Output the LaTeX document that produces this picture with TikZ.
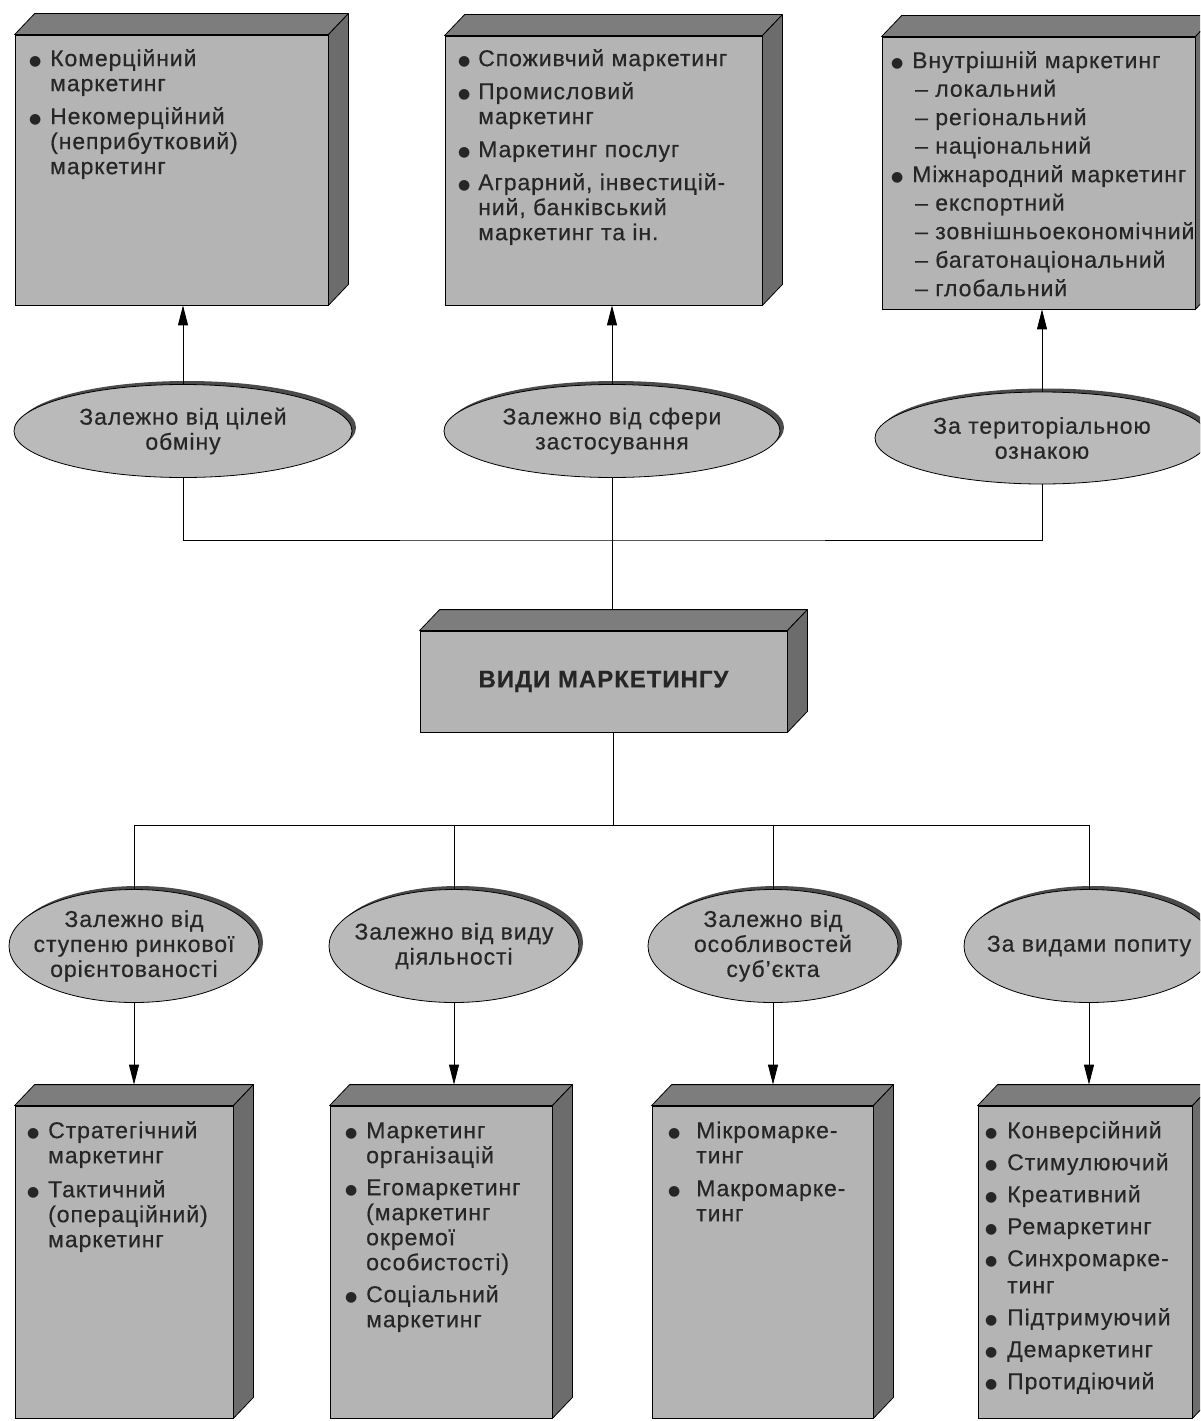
\documentclass[tikz,border=0pt]{standalone}
\usepackage{fontspec}
\setmainfont{Liberation Sans}[LetterSpace=4, FakeBold=0.4]
\newfontfamily\symf{DejaVu Sans}
\usetikzlibrary{shapes.geometric,arrows.meta,shadows}
\definecolor{frontc}{RGB}{180,180,180}
\definecolor{topc}{RGB}{125,125,125}
\definecolor{sidec}{RGB}{108,108,108}
\definecolor{ellc}{RGB}{186,186,186}
\definecolor{shc}{RGB}{75,75,75}
\definecolor{txtc}{RGB}{38,38,38}
\newcommand\bul[1]{\makebox[#1pt][l]{\raisebox{1.2pt}{\symf\fontsize{14}{14}\selectfont ●}}}
\newcommand\hi[1]{\hspace*{#1pt}}
\newcommand\fst{\rule{0pt}{21pt}}
\newcommand\faces[1]{%
  \path[topf] (#1.north west) -- ([shift={(20,-21)}]#1.north west) -- ([shift={(20,-21)}]#1.north east) -- (#1.north east) -- cycle;
  \path[sidef] (#1.north east) -- ([shift={(20,-21)}]#1.north east) -- ([shift={(20,-21)}]#1.south east) -- (#1.south east) -- cycle;}
\begin{document}
\begin{tikzpicture}[x=1pt,y=-1pt,
  front/.style={draw=black, line width=0.8pt, fill=frontc, inner sep=0pt},
  topf/.style={draw=black, line width=0.8pt, fill=topc, line join=round},
  sidef/.style={draw=black, line width=0.8pt, fill=sidec, line join=round},
  oval/.style={ellipse, draw=black, line width=0.8pt, fill=ellc, inner xsep=-30pt, inner ysep=-8pt, align=center, text=txtc, font=\fontsize{23}{25}\selectfont, drop shadow={shadow xshift=4pt, shadow yshift=3.5pt, fill=shc, opacity=1}},
  txt/.style={anchor=north west, inner sep=0pt, align=left, text=txtc, font=\fontsize{23}{25}\selectfont},
  conn/.style={draw=black, line width=0.9pt},
  arr/.style={conn, -{Triangle[length=20pt,width=10pt]}}]
\useasboundingbox (0,0) rectangle (1200,1421);
\clip (0,0) rectangle (1200,1421);
\fill[white] (0,0) rectangle (1200,1421);

% top boxes
\node[front, minimum width=313pt, minimum height=270pt] (b1) at (171.5,170) {};
\faces{b1}
\node[front, minimum width=317pt, minimum height=269pt] (b2) at (603.5,170.5) {};
\faces{b2}
\node[front, minimum width=313pt, minimum height=272pt] (b3) at (1038.5,173) {};
\faces{b3}

\node[txt] (t1) at (29,45) {\fst\bul{21}Комерційний\\\hi{21}маркетинг\\[8pt]\bul{21}Некомерційний\\\hi{21}(неприбутковий)\\\hi{21}маркетинг};
\node[txt] (t2) at (458,45) {\fst\bul{20}Споживчий маркетинг\\[8pt]\bul{20}Промисловий\\\hi{20}маркетинг\\[8pt]\bul{20}Маркетинг послуг\\[8pt]\bul{20}Аграрний, інвестицій-\\\hi{20}ний, банківський\\\hi{20}маркетинг та ін.};
\node[txt, font=\fontsize{23}{28.5}\selectfont] (t3) at (891,47) {\fst\bul{21}Внутрішній маркетинг\\\hi{24}– локальний\\\hi{24}– регіональний\\\hi{24}– національний\\\bul{21}Міжнародний маркетинг\\\hi{24}– експортний\\\hi{24}– зовнішньоекономічний\\\hi{24}– багатонаціональний\\\hi{24}– глобальний};

% top ellipses
\node[oval, minimum width=338pt, minimum height=93pt] (e1) at (183,431) {Залежно від цілей\\обміну};
\node[oval, minimum width=336pt, minimum height=93pt] (e2) at (612,431) {Залежно від сфери\\застосування};
\node[oval, minimum width=334pt, minimum height=92pt] (e3) at (1042,438) {За територіальною\\ознакою};

\draw[arr] (e1.north) -- (e1.north |- b1.south);
\draw[arr] (e2.north) -- (e2.north |- b2.south);
\draw[arr] (e3.north) -- (e3.north |- b3.south);

% central box
\node[front, minimum width=367pt, minimum height=101pt, font=\bfseries\fontsize{24}{26}\selectfont, text=txtc] (vm) at (603.5,681.5) {ВИДИ МАРКЕТИНГУ};
\faces{vm}

\coordinate (tb) at (612,540);
\coordinate (vmback) at ([yshift=21pt]vm.north);
\draw[conn] (e1.south) |- (tb) -| (e3.south);
\draw[conn] (e2.south) -- (e2.south |- vmback);

% bottom ellipses
\node[oval, minimum width=250pt, minimum height=113pt] (f1) at (134,946) {Залежно від\\ступеню ринкової\\орієнтованості};
\node[oval, minimum width=250pt, minimum height=113pt] (f2) at (454,946) {Залежно від виду\\діяльності};
\node[oval, minimum width=250pt, minimum height=113pt] (f3) at (773,946) {Залежно від\\особливостей\\суб’єкта};
\node[oval, minimum width=250pt, minimum height=113pt] (f4) at (1089,946) {За видами попиту};

\coordinate (bb) at (613,825);
\draw[conn] (bb |- vm.south) -- (bb);
\draw[conn] (f1.north) |- (bb) -| (f4.north);
\draw[conn] (f2.north) -- (f2.north |- bb);
\draw[conn] (f3.north) -- (f3.north |- bb);

% bottom boxes
\node[front, minimum width=218pt, minimum height=312pt] (g1) at (124,1262) {};
\faces{g1}
\node[front, minimum width=222pt, minimum height=312pt] (g2) at (441,1262) {};
\faces{g2}
\node[front, minimum width=221pt, minimum height=312pt] (g3) at (762.5,1262) {};
\faces{g3}
\node[front, minimum width=214pt, minimum height=312pt] (g4) at (1085,1262) {};
\faces{g4}

\coordinate (g1t) at ([yshift=21pt]g1.north);
\coordinate (g2t) at ([yshift=21pt]g2.north);
\coordinate (g3t) at ([yshift=21pt]g3.north);
\coordinate (g4t) at ([yshift=21pt]g4.north);
\draw[arr] (f1.south) -- (f1.south |- g1t);
\draw[arr] (f2.south) -- (f2.south |- g2t);
\draw[arr] (f3.south) -- (f3.south |- g3t);
\draw[arr] (f4.south) -- (f4.south |- g4t);

\node[txt] (u1) at (27,1117) {\fst\bul{21}Стратегічний\\\hi{21}маркетинг\\[9pt]\bul{21}Тактичний\\\hi{21}(операційний)\\\hi{21}маркетинг};
\node[txt] (u2) at (345,1117) {\fst\bul{21}Маркетинг\\\hi{21}організацій\\[7pt]\bul{21}Егомаркетинг\\\hi{21}(маркетинг\\\hi{21}окремої\\\hi{21}особистості)\\[7pt]\bul{21}Соціальний\\\hi{21}маркетинг};
\node[txt] (u3) at (668,1117) {\fst\bul{28}Мікромарке-\\\hi{28}тинг\\[8pt]\bul{28}Макромарке-\\\hi{28}тинг};
\node[txt] (u4) at (985,1117) {\fst\bul{22}Конверсійний\\[7pt]\bul{22}Стимулюючий\\[7pt]\bul{22}Креативний\\[7pt]\bul{22}Ремаркетинг\\[7pt]\bul{22}Синхромарке-\\[2pt]\hi{22}тинг\\[7pt]\bul{22}Підтримуючий\\[7pt]\bul{22}Демаркетинг\\[7pt]\bul{22}Протидіючий};
\end{tikzpicture}
\end{document}
